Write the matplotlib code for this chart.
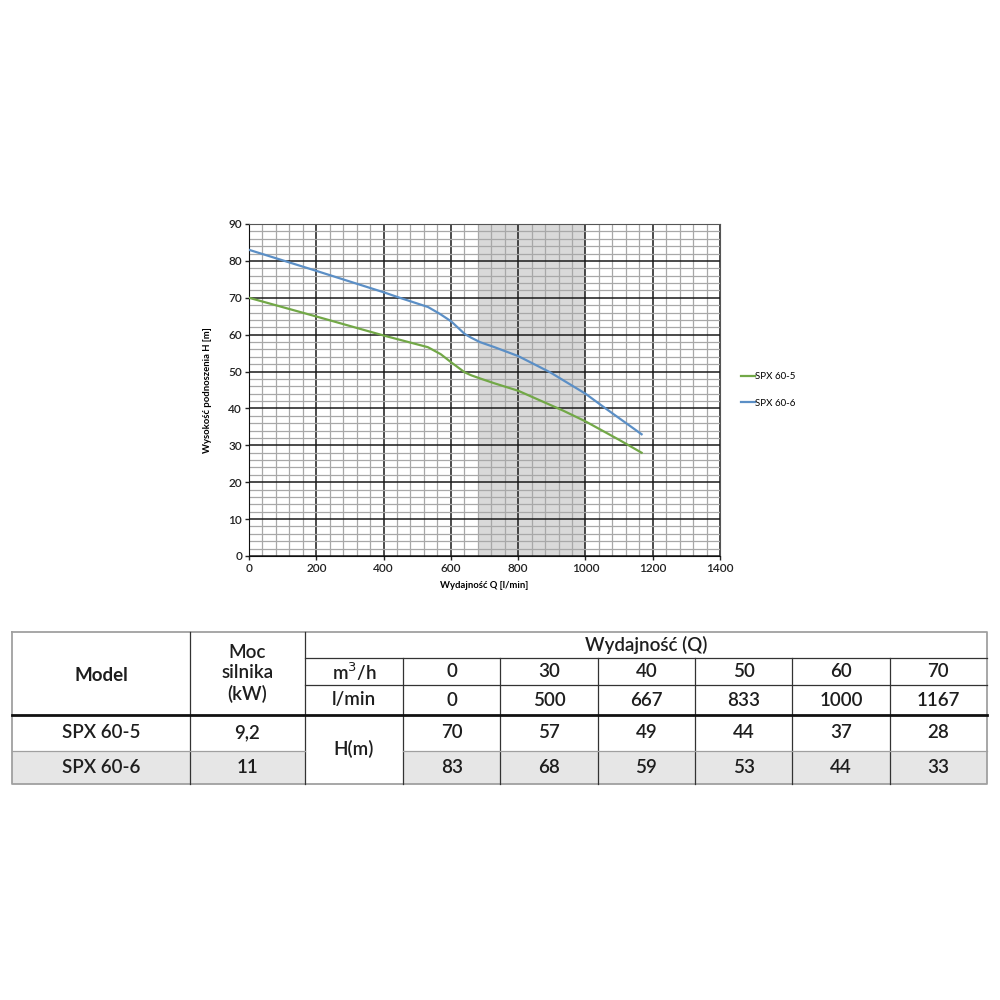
import matplotlib
matplotlib.use('Agg')
import matplotlib.pyplot as plt
from matplotlib.ticker import MultipleLocator

plt.rcParams['font.family'] = ['Lato', 'DejaVu Sans']

# ── Pump curves ──────────────────────────────────────────────────────────────
q_605 = [0, 205, 403, 532, 570, 601, 641, 660, 691, 730, 800, 934, 1000, 1100, 1167]
h_605 = [70, 64.8, 59.7, 56.6, 54.7, 52.5, 49.8, 49.0, 48.0, 46.8, 44.8, 39.4, 36.5, 31.5, 28]
q_606 = [0, 200, 400, 448, 532, 568, 601, 641, 660, 686, 730, 800, 895, 1000, 1063, 1167]
h_606 = [83, 77.3, 71.5, 70, 67.5, 65.6, 63.6, 60.2, 59.2, 58, 56.6, 54.2, 49.8, 44, 39.8, 33]
series_names = ['SPX 60-5', 'SPX 60-6']
shade_range = (680, 1000)

# ── Table content ────────────────────────────────────────────────────────────
m3h_vals = ['0', '30', '40', '50', '60', '70']
lmin_vals = ['0', '500', '667', '833', '1000', '1167']
models = ['SPX 60-5', 'SPX 60-6']
powers = ['9,2', '11']
heads = [['70', '57', '49', '44', '37', '28'],
         ['83', '68', '59', '53', '44', '33']]

GREEN = '#72a847'
BLUE = '#5b8fc6'

fig = plt.figure(figsize=(10, 10), dpi=100)

# ── Chart ────────────────────────────────────────────────────────────────────
ax = fig.add_axes([0.249, 0.444, 0.471, 0.332])
ax.set_xlim(0, 1400)
ax.set_ylim(0, 90)
ax.axvspan(*shade_range, color='#d9d9d9', zorder=0, lw=0)
ax.xaxis.set_major_locator(MultipleLocator(200))
ax.xaxis.set_minor_locator(MultipleLocator(40))
ax.yaxis.set_major_locator(MultipleLocator(10))
ax.yaxis.set_minor_locator(MultipleLocator(2))
ax.grid(which='major', color='#1a1a1a', lw=1.1, zorder=1)
ax.grid(which='minor', color='#a8a8a8', lw=0.9, zorder=1)
ax.set_axisbelow(True)
ax.tick_params(which='minor', length=0)
ax.tick_params(which='major', length=3, width=1, labelsize=8.5, pad=2, colors='#222222')
for lab in ax.get_xticklabels() + ax.get_yticklabels():
    lab.set_fontweight('semibold')
for s in ax.spines.values():
    s.set_color('#555555')
ax.spines['left'].set_color('#111111')
ax.spines['bottom'].set_color('#111111')

l1, = ax.plot(q_605, h_605, color=GREEN, lw=1.6, zorder=3)
l2, = ax.plot(q_606, h_606, color=BLUE, lw=1.6, zorder=3)
ax.set_xlabel('Wydajność Q [l/min]', fontsize=6.8, fontweight='bold', labelpad=5)
ax.set_ylabel('Wysokość podnoszenia H [m]', fontsize=6.8, fontweight='bold', labelpad=12)

fig.legend([l1, l2], series_names, loc='center left', bbox_to_anchor=(0.737, 0.61),
           frameon=False, fontsize=7, handlelength=1.4, handletextpad=0.1,
           labelspacing=1.75, borderaxespad=0)

# ── Table (drawn in pixel coordinates) ───────────────────────────────────────
tx = fig.add_axes([0, 0, 1, 1])
tx.set_xlim(0, 1000)
tx.set_ylim(1000, 0)
tx.axis('off')

x_left, x_model, x_moc, x_unit, x_right = 12, 190, 305, 403, 987
col_w = (x_right - x_unit) / len(m3h_vals)
cols = [x_unit + i * col_w for i in range(len(m3h_vals) + 1)]
y_top, y_r1, y_r2, y_head, y_mid, y_bot = 632, 658, 685, 715, 751, 784

DARK = '#333333'
GRAY = '#a0a0a0'
tx.add_patch(plt.Rectangle((x_left, y_mid), x_moc - x_left, y_bot - y_mid,
                           facecolor='#e6e6e6', lw=0))
tx.add_patch(plt.Rectangle((x_unit, y_mid), x_right - x_unit, y_bot - y_mid,
                           facecolor='#e6e6e6', lw=0))

# outer border
tx.plot([x_left, x_right, x_right, x_left, x_left],
        [y_top, y_top, y_bot, y_bot, y_top], color=GRAY, lw=1.3)
# inner lines
tx.plot([x_model, x_model], [y_top, y_bot], color=DARK, lw=0.9)
tx.plot([x_moc, x_moc], [y_top, y_bot], color=DARK, lw=0.9)
for cx in cols[:-1]:
    tx.plot([cx, cx], [y_r1, y_bot], color=DARK, lw=0.9)
tx.plot([x_moc, x_right], [y_r1, y_r1], color=DARK, lw=0.9)
tx.plot([x_moc, x_right], [y_r2, y_r2], color=DARK, lw=0.9)
tx.plot([x_left, x_right], [y_head, y_head], color='#111111', lw=2)
tx.plot([x_left, x_moc], [y_mid, y_mid], color=GRAY, lw=0.9)
tx.plot([x_unit, x_right], [y_mid, y_mid], color=GRAY, lw=0.9)

FS = 13.5
TC = '#1e1e1e'
tx.text((x_left + x_model) / 2, (y_top + y_head) / 2 + 2, 'Model', ha='center', va='center',
        fontsize=FS, fontweight='bold', color=TC)
tx.text((x_model + x_moc) / 2, (y_top + y_head) / 2, 'Moc\nsilnika\n(kW)', ha='center',
        va='center', fontsize=FS, linespacing=1.25, fontweight='semibold', color=TC)
tx.text((x_moc + x_right) / 2, (y_top + y_r1) / 2, 'Wydajność (Q)', ha='center', va='center',
        fontsize=FS, fontweight='semibold', color=TC)
tx.text((x_moc + x_unit) / 2, (y_r1 + y_r2) / 2, 'm$^3$/h', ha='center', va='center',
        fontsize=FS, fontweight='semibold', color=TC)
tx.text((x_moc + x_unit) / 2, (y_r2 + y_head) / 2, 'l/min', ha='center', va='center',
        fontsize=FS, fontweight='semibold', color=TC)
tx.text((x_moc + x_unit) / 2, (y_head + y_bot) / 2, 'H(m)', ha='center', va='center',
        fontsize=FS, fontweight='semibold', color=TC)

for i in range(len(m3h_vals)):
    cx = (cols[i] + cols[i + 1]) / 2
    tx.text(cx, (y_r1 + y_r2) / 2, m3h_vals[i], ha='center', va='center',
            fontsize=FS, fontweight='semibold', color=TC)
    tx.text(cx, (y_r2 + y_head) / 2, lmin_vals[i], ha='center', va='center',
            fontsize=FS, fontweight='semibold', color=TC)

row_ys = [(y_head + y_mid) / 2, (y_mid + y_bot) / 2]
for r in range(len(models)):
    tx.text((x_left + x_model) / 2, row_ys[r], models[r], ha='center', va='center',
            fontsize=FS, fontweight='semibold', color=TC)
    tx.text((x_model + x_moc) / 2, row_ys[r], powers[r], ha='center', va='center',
            fontsize=FS, fontweight='semibold', color=TC)
    for i in range(len(heads[r])):
        tx.text((cols[i] + cols[i + 1]) / 2, row_ys[r], heads[r][i], ha='center',
                va='center', fontsize=FS, fontweight='semibold', color=TC)

fig.savefig('out.png', dpi=100, facecolor='white')
